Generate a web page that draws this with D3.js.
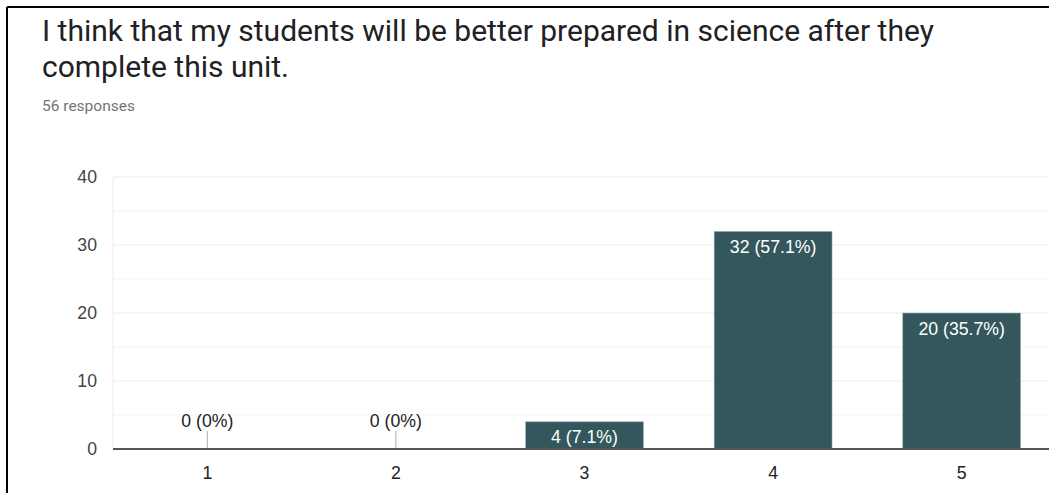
<!DOCTYPE html>
<html>
<head>
<meta charset="utf-8">
<script src="https://cdn.jsdelivr.net/npm/d3@7"></script>
<style>
  html, body { margin: 0; padding: 0; background: #fff; }
  svg { display: block; }
</style>
</head>
<body>
<svg id="chart" width="1049" height="493"></svg>
<script>
// Survey question and response counts
const titleLines = [
  "I think that my students will be better prepared in science after they",
  "complete this unit."
];
const responseNote = "56 responses";
const categories = ["1", "2", "3", "4", "5"];
const counts = [0, 0, 4, 32, 20];
const percentLabels = ["0%", "0%", "7.1%", "57.1%", "35.7%"];
const yTicks = [0, 10, 20, 30, 40];
const yMinorTicks = [5, 15, 25, 35];

const svg = d3.select("#chart");
const W = 1049, H = 493;
const plot = { left: 113, right: 1056, top: 177, bottom: 449 };
const barColor = "#33575c";
const chartFont = "'Liberation Sans', Arial, sans-serif";
const chartFontSize = 17.7;

// Frame edges along the top and left
svg.append("line").attr("x1", 7).attr("x2", W).attr("y1", 7).attr("y2", 7)
  .attr("stroke", "#000").attr("stroke-width", 2);
svg.append("line").attr("x1", 7).attr("x2", 7).attr("y1", 7).attr("y2", H)
  .attr("stroke", "#000").attr("stroke-width", 2);

// Heading
const head = svg.append("g").attr("font-family", "Roboto, sans-serif");
head.selectAll("text.title").data(titleLines).join("text")
  .attr("class", "title")
  .attr("x", 42)
  .attr("y", (d, i) => 41 + i * 36)
  .attr("font-size", 30)
  .attr("fill", "#202124")
  .text(d => d);
head.append("text")
  .attr("x", 42).attr("y", 111)
  .attr("font-size", 15.5)
  .attr("fill", "#70757a")
  .text(responseNote);

// Scales
const x = d3.scaleBand()
  .domain(categories)
  .range([plot.left, plot.right])
  .paddingInner(0.375)
  .paddingOuter(0.1875);
const y = d3.scaleLinear().domain([0, 40]).range([plot.bottom, plot.top]);

// Gridlines (major and minor)
const grid = svg.append("g");
grid.selectAll("line.minor").data(yMinorTicks).join("line")
  .attr("x1", plot.left).attr("x2", W)
  .attr("y1", d => y(d)).attr("y2", d => y(d))
  .attr("stroke", "#f3f3f3").attr("stroke-width", 1);
grid.selectAll("line.major").data(yTicks.filter(t => t > 0)).join("line")
  .attr("x1", plot.left).attr("x2", W)
  .attr("y1", d => y(d)).attr("y2", d => y(d))
  .attr("stroke", "#ebebeb").attr("stroke-width", 1);
grid.append("line")
  .attr("x1", plot.left).attr("x2", plot.left)
  .attr("y1", y(40)).attr("y2", y(0))
  .attr("stroke", "#ebebeb").attr("stroke-width", 1);

// Y axis labels
const yAxis = svg.append("g")
  .attr("transform", `translate(${plot.left - 16},0)`)
  .call(d3.axisLeft(y).tickValues(yTicks).tickSize(0).tickPadding(0));
yAxis.select(".domain").remove();
yAxis.selectAll("text")
  .attr("font-family", chartFont)
  .attr("font-size", chartFontSize)
  .attr("fill", "#444");

// Bars
const data = categories.map((c, i) => ({ cat: c, value: counts[i], pct: percentLabels[i] }));
svg.append("g").selectAll("rect").data(data.filter(d => d.value > 0)).join("rect")
  .attr("x", d => x(d.cat))
  .attr("width", x.bandwidth())
  .attr("y", d => y(d.value))
  .attr("height", d => y(0) - y(d.value))
  .attr("fill", barColor)
  .attr("stroke", "#9fb4b7")
  .attr("stroke-width", 0.6);

// Value labels inside bars
svg.append("g").selectAll("text").data(data.filter(d => d.value > 0)).join("text")
  .attr("x", d => x(d.cat) + x.bandwidth() / 2)
  .attr("y", d => y(d.value) + 21.5)
  .attr("text-anchor", "middle")
  .attr("font-family", chartFont)
  .attr("font-size", chartFontSize)
  .attr("fill", "#fff")
  .text(d => `${d.value} (${d.pct})`);

// Zero-count markers with labels above
const zeros = data.filter(d => d.value === 0);
svg.append("g").selectAll("line").data(zeros).join("line")
  .attr("x1", d => x(d.cat) + x.bandwidth() / 2)
  .attr("x2", d => x(d.cat) + x.bandwidth() / 2)
  .attr("y1", y(0)).attr("y2", y(0) - 18)
  .attr("stroke", "#aaa").attr("stroke-width", 1);
svg.append("g").selectAll("text").data(zeros).join("text")
  .attr("x", d => x(d.cat) + x.bandwidth() / 2)
  .attr("y", y(0) - 22)
  .attr("text-anchor", "middle")
  .attr("font-family", chartFont)
  .attr("font-size", chartFontSize)
  .attr("fill", "#222")
  .text(d => `${d.value} (${d.pct})`);

// Baseline and category labels
svg.append("line")
  .attr("x1", plot.left).attr("x2", W)
  .attr("y1", y(0)).attr("y2", y(0))
  .attr("stroke", "#555").attr("stroke-width", 2);
const xAxis = svg.append("g")
  .attr("transform", `translate(0,${y(0)})`)
  .call(d3.axisBottom(x).tickSize(0).tickPadding(17));
xAxis.select(".domain").remove();
xAxis.selectAll("text")
  .attr("font-family", chartFont)
  .attr("font-size", chartFontSize)
  .attr("fill", "#222");
</script>
</body>
</html>
